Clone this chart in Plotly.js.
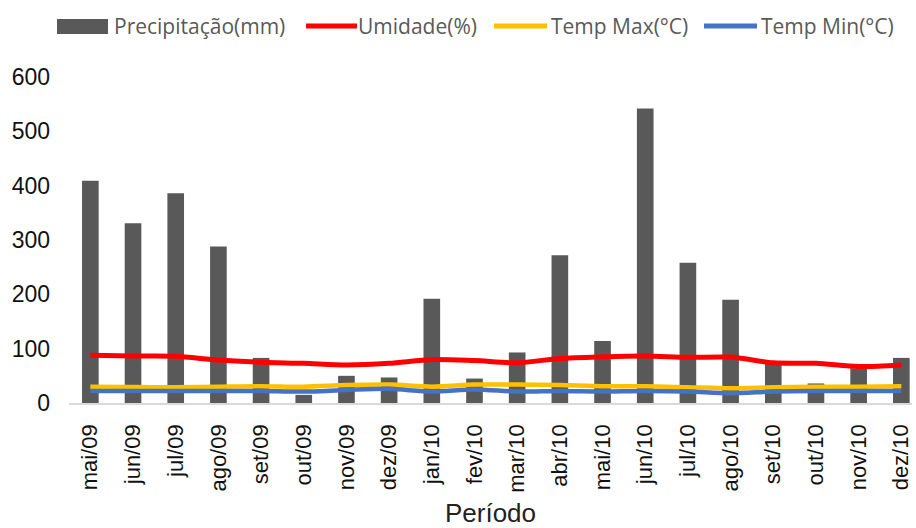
<!DOCTYPE html>
<html>
<head>
<meta charset="utf-8">
<script src="https://cdn.plot.ly/plotly-3.0.1.min.js"></script>
<style>html,body{margin:0;padding:0;background:#fff;}#chart{width:916px;height:528px;}</style>
</head>
<body>
<div id="chart"></div>
<script>
const periodos = ["mai/09","jun/09","jul/09","ago/09","set/09","out/09","nov/09","dez/09",
  "jan/10","fev/10","mar/10","abr/10","mai/10","jun/10","jul/10","ago/10","set/10","out/10","nov/10","dez/10"];
const precipitacao = [409, 331, 386, 288, 83, 15, 50, 47, 192, 45, 93, 272, 114, 542, 258, 190, 75, 36, 64, 83];
const umidade = [88, 86.5, 86, 79, 75, 73, 70, 73, 80, 78, 74, 82, 85, 86.5, 84, 84.5, 74, 73, 67, 70];
const tempMax = [30, 29.5, 29, 30, 31, 30, 33, 34, 30, 34, 34, 33, 31, 31, 29, 27, 29, 30, 30, 31];
const tempMin = [22, 22, 22, 22, 22, 21, 24, 26, 21, 25, 21, 22, 21, 22, 21, 18, 21, 22, 22, 22];
const legendNames = ["Precipitação(mm)", "Umidade(%)", "Temp Max(°C)", "Temp Min(°C)"];
const colors = ["#595959", "#FF0000", "#FFC000", "#4472C4"];

const traces = [
  {type: "bar", x: periodos, y: precipitacao, name: legendNames[0], marker: {color: colors[0], line: {width: 0}}},
  {type: "scatter", mode: "lines", x: periodos, y: umidade, name: legendNames[1], line: {color: colors[1], width: 5, shape: "spline", smoothing: 0.8}},
  {type: "scatter", mode: "lines", x: periodos, y: tempMax, name: legendNames[2], line: {color: colors[2], width: 4.5, shape: "spline", smoothing: 0.8}},
  {type: "scatter", mode: "lines", x: periodos, y: tempMin, name: legendNames[3], line: {color: colors[3], width: 4.5, shape: "spline", smoothing: 0.8}}
];

// pixel -> paper helpers for the custom legend
const L = 69, W = 843, T = 77, H = 326;
const px = v => (v - L) / W;
const py = v => (T + H - v) / H;

const legendY = 26;
const shapes = [
  {type: "rect", xref: "paper", yref: "paper", x0: px(57), x1: px(108), y0: py(34), y1: py(19), fillcolor: colors[0], line: {width: 0}},
  {type: "line", xref: "paper", yref: "paper", x0: px(306), x1: px(357), y0: py(legendY), y1: py(legendY), line: {color: colors[1], width: 5}},
  {type: "line", xref: "paper", yref: "paper", x0: px(494), x1: px(547), y0: py(legendY), y1: py(legendY), line: {color: colors[2], width: 5}},
  {type: "line", xref: "paper", yref: "paper", x0: px(704), x1: px(757), y0: py(legendY), y1: py(legendY), line: {color: colors[3], width: 5}}
];
const legX = [112, 356, 549, 759];
const annotations = legendNames.map((t, i) => ({
  xref: "paper", yref: "paper", x: px(legX[i]), y: py(legendY), xanchor: "left", yanchor: "middle",
  text: t, showarrow: false, font: {family: "Open Sans, Noto Sans, sans-serif", size: 21, color: "#595959"}
}));

const layout = {
  width: 916, height: 528,
  margin: {l: L, r: 916 - L - W, t: T, b: 528 - T - H},
  paper_bgcolor: "#ffffff", plot_bgcolor: "#ffffff",
  showlegend: false,
  bargap: 0.61,
  xaxis: {
    type: "category", range: [-0.5, 19.25], fixedrange: true,
    showline: true, linecolor: "#d9d9d9", linewidth: 1.5, showgrid: false, zeroline: false,
    ticks: "", tickangle: -90, ticklabelstandoff: 11,
    tickfont: {family: "Liberation Sans, Arial, sans-serif", size: 22, color: "#111"},
    title: {text: "Período", standoff: 12, font: {family: "Liberation Sans, Arial, sans-serif", size: 26, color: "#222"}},
    automargin: false
  },
  yaxis: {
    range: [0, 600], dtick: 100, showgrid: false, zeroline: false, showline: false,
    ticks: "", ticklabelstandoff: 18,
    tickfont: {family: "Liberation Sans, Arial, sans-serif", size: 23, color: "#111"},
    automargin: false
  },
  shapes: shapes,
  annotations: annotations
};

Plotly.newPlot("chart", traces, layout, {staticPlot: true, displayModeBar: false});
</script>
</body>
</html>
